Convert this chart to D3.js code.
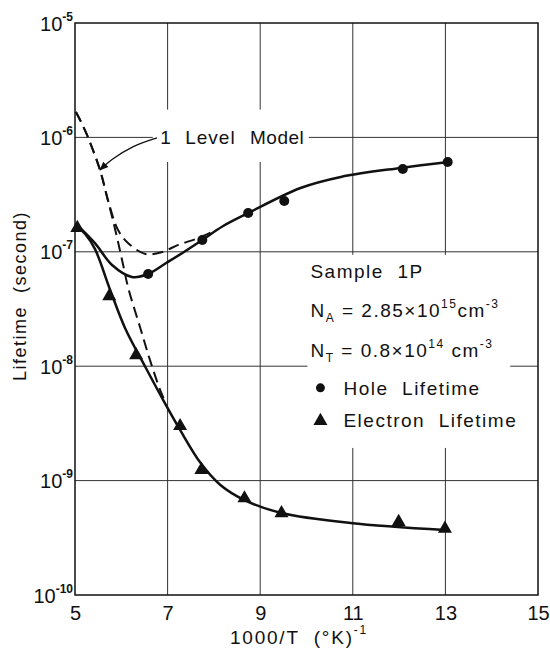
<!DOCTYPE html>
<html>
<head>
<meta charset="utf-8">
<script src="https://cdn.jsdelivr.net/npm/d3@7"></script>
<style>
  body { margin: 0; background: #fff; }
  svg { font-family: "Liberation Sans", Arial, sans-serif; }
  svg text { white-space: pre; }
</style>
</head>
<body>
<div id="chart"></div>
<script>
// axis ticks
const xTicks = [5, 7, 9, 11, 13, 15];
const yExponents = [-5, -6, -7, -8, -9, -10];

// measured lifetimes (seconds) vs 1000/T
const holeX = [6.58, 7.75, 8.74, 9.52, 12.08, 13.05];
const holeTau = [6.4e-8, 1.27e-7, 2.18e-7, 2.78e-7, 5.3e-7, 6.1e-7];
const electronX = [5.05, 5.74, 6.32, 7.27, 7.73, 8.66, 9.46, 11.99, 12.99];
const electronTau = [1.62e-7, 4.1e-8, 1.25e-8, 3.0e-9, 1.24e-9, 7.0e-10, 5.2e-10, 4.35e-10, 3.8e-10];

// solid fitted curves
const holeFitX = [5.02, 5.43, 5.80, 6.23, 6.58, 6.97, 7.32, 7.75, 8.20, 8.74, 9.87, 10.74, 12.03, 13.07];
const holeFitTau = [1.75e-7, 1.19e-7, 7.67e-8, 6.03e-8, 6.4e-8, 7.98e-8, 9.77e-8, 1.27e-7, 1.68e-7, 2.18e-7, 3.61e-7, 4.51e-7, 5.41e-7, 6.1e-7];
const electronFitX = [5.04, 5.22, 5.43, 5.76, 6.08, 6.52, 6.95, 7.27, 7.71, 8.14, 8.66, 9.46, 10.95, 12.99];
const electronFitTau = [1.68e-7, 1.43e-7, 1.06e-7, 4.63e-8, 2.16e-8, 9.84e-9, 4.68e-9, 2.77e-9, 1.43e-9, 9.16e-10, 6.76e-10, 5.21e-10, 4.26e-10, 3.7e-10];

// dashed "1 level model" curves
const modelHoleX = [5.02, 5.11, 5.26, 5.54, 5.71, 5.93, 6.15, 6.52, 6.88, 7.23, 7.60, 7.81, 8.05];
const modelHoleTau = [1.67e-6, 1.42e-6, 1.05e-6, 5.19e-7, 2.84e-7, 1.55e-7, 1.19e-7, 9.57e-8, 9.95e-8, 1.15e-7, 1.29e-7, 1.4e-7, 1.55e-7];
const modelElectronX = [5.02, 5.11, 5.26, 5.54, 5.71, 5.91, 6.04, 6.15, 6.41, 6.62, 6.84, 6.97];
const modelElectronTau = [1.67e-6, 1.42e-6, 1.05e-6, 5.19e-7, 2.84e-7, 1.32e-7, 7.67e-8, 4.83e-8, 2.16e-8, 1.13e-8, 6.19e-9, 4.68e-9];

// annotation arrow for the model label
const arrowX = [6.77, 6.26, 5.80, 5.54];
const arrowTau = [9.89e-7, 8.3e-7, 6.4e-7, 5.19e-7];

const margin = { left: 75, right: 12, top: 23, bottom: 61 };
const W = 550, H = 656;
const width = W - margin.left - margin.right;
const height = H - margin.top - margin.bottom;

const svg = d3.select("#chart").append("svg")
    .attr("width", W)
    .attr("height", H);

const g = svg.append("g")
    .attr("transform", `translate(${margin.left},${margin.top})`);

const x = d3.scaleLinear().domain([5, 15]).range([0, width]);
const y = d3.scaleLog().domain([1e-10, 1e-5]).range([height, 0]);

const ink = "#111";

// grid
g.selectAll(".vgrid")
  .data(xTicks.slice(1, -1))
  .enter().append("line")
    .attr("x1", d => x(d)).attr("x2", d => x(d))
    .attr("y1", 0).attr("y2", height)
    .attr("stroke", "#333").attr("stroke-width", 1);

g.selectAll(".hgrid")
  .data(yExponents.slice(1, -1))
  .enter().append("line")
    .attr("x1", 0).attr("x2", width)
    .attr("y1", d => y(10 ** d)).attr("y2", d => y(10 ** d))
    .attr("stroke", "#333").attr("stroke-width", 1);

// blank areas behind the lettering
g.append("rect")
    .attr("x", x(6.68)).attr("y", y(1.75e-6))
    .attr("width", x(10.05) - x(6.68)).attr("height", y(6.1e-7) - y(1.75e-6))
    .attr("fill", "#fff");

const legX = x(10.02), legY = y(9.4e-8);
g.append("rect")
    .attr("x", legX).attr("y", legY)
    .attr("width", x(14.4) - legX).attr("height", y(1.93e-9) - legY)
    .attr("fill", "#fff");

// frame
g.append("rect")
    .attr("width", width).attr("height", height)
    .attr("fill", "none").attr("stroke", ink).attr("stroke-width", 1.5);

// axes
const xAxis = g.append("g")
    .attr("transform", `translate(0,${height})`)
    .call(d3.axisBottom(x).tickValues(xTicks).tickSize(0).tickPadding(11).tickFormat(d3.format("d")));
xAxis.select(".domain").remove();
xAxis.selectAll("text")
    .attr("font-size", 20).attr("fill", ink)
    .attr("font-family", "Liberation Sans, Arial, sans-serif");

const yAxis = g.append("g")
    .call(d3.axisLeft(y).tickValues(yExponents.map(e => 10 ** e)).tickSize(0).tickFormat(""));
yAxis.select(".domain").remove();
yAxis.selectAll(".tick text").remove();
yAxis.selectAll(".tick").each(function (d) {
  const e = Math.round(Math.log10(d));
  const t = d3.select(this).append("text")
      .attr("x", -2).attr("y", 7)
      .attr("text-anchor", "end")
      .attr("fill", ink)
      .attr("font-family", "Liberation Sans, Arial, sans-serif");
  t.append("tspan").attr("font-size", 20).text("10");
  t.append("tspan").attr("font-size", 12).attr("font-weight", "bold").attr("dy", -10).text(e);
});

// axis titles
const xTitle = svg.append("text")
    .attr("x", 299).attr("y", 644)
    .attr("text-anchor", "middle")
    .attr("font-size", 19).attr("letter-spacing", 1.8).attr("fill", ink);
xTitle.append("tspan").text("1000/T  (°K)");
xTitle.append("tspan").attr("font-size", 12).attr("dy", -10).text("-1");

svg.append("text")
    .attr("transform", "translate(26,296) rotate(-90)")
    .attr("text-anchor", "middle")
    .attr("font-size", 18).attr("letter-spacing", 1.5).attr("fill", ink)
    .text("Lifetime  (second)");

// curves
const line = d3.line()
    .x(d => x(d[0]))
    .y(d => y(d[1]))
    .curve(d3.curveCatmullRom.alpha(0.5));

const zip = (a, b) => a.map((v, i) => [v, b[i]]);

g.append("path").datum(zip(holeFitX, holeFitTau))
    .attr("d", line).attr("fill", "none").attr("stroke", ink).attr("stroke-width", 2.5);
g.append("path").datum(zip(electronFitX, electronFitTau))
    .attr("d", line).attr("fill", "none").attr("stroke", ink).attr("stroke-width", 2.5);

[zip(modelHoleX, modelHoleTau), zip(modelElectronX, modelElectronTau)].forEach(pts => {
  g.append("path").datum(pts)
      .attr("d", line).attr("fill", "none").attr("stroke", ink)
      .attr("stroke-width", 2).attr("stroke-dasharray", "11,6");
});

// markers
g.selectAll(".hole")
  .data(zip(holeX, holeTau))
  .enter().append("circle")
    .attr("cx", d => x(d[0])).attr("cy", d => y(d[1]))
    .attr("r", 5).attr("fill", ink);

const tri = d3.symbol().type(d3.symbolTriangle).size(85);
g.selectAll(".electron")
  .data(zip(electronX, electronTau))
  .enter().append("path")
    .attr("d", tri)
    .attr("transform", d => `translate(${x(d[0])},${y(d[1])})`)
    .attr("fill", ink);

// model label + arrow
svg.append("defs").append("marker")
    .attr("id", "head")
    .attr("viewBox", "0 0 10 10")
    .attr("refX", 9).attr("refY", 5)
    .attr("markerWidth", 7).attr("markerHeight", 7)
    .attr("orient", "auto")
  .append("path")
    .attr("d", "M0,1 L10,5 L0,9 Z")
    .attr("fill", ink);

g.append("path").datum(zip(arrowX, arrowTau))
    .attr("d", line.curve(d3.curveNatural))
    .attr("fill", "none").attr("stroke", ink).attr("stroke-width", 1.3)
    .attr("marker-end", "url(#head)");

const label = g.append("text")
    .attr("y", y(1e-6) + 7)
    .attr("font-size", 19).attr("fill", ink);
label.append("tspan").attr("x", x(6.84)).text("1");
label.append("tspan").attr("x", x(7.38)).attr("letter-spacing", 1).text("Level");
label.append("tspan").attr("x", x(8.78)).attr("letter-spacing", 0.5).text("Model");

// legend box text
const leg = g.append("g")
    .attr("transform", `translate(${legX},${legY})`)
    .attr("fill", ink).attr("font-size", 19).attr("letter-spacing", 1.5);

leg.append("text").attr("x", 3).attr("y", 23).text("Sample  1P");

const na = leg.append("text").attr("x", 3).attr("y", 62);
na.append("tspan").text("N");
na.append("tspan").attr("font-size", 12).attr("dy", 5).text("A");
na.append("tspan").attr("dy", -5).text(" = 2.85×10");
na.append("tspan").attr("font-size", 12).attr("dy", -9).text("15");
na.append("tspan").attr("dy", 9).text("cm");
na.append("tspan").attr("font-size", 12).attr("dy", -9).text("-3");

const nt = leg.append("text").attr("x", 3).attr("y", 102);
nt.append("tspan").text("N");
nt.append("tspan").attr("font-size", 12).attr("dy", 5).text("T");
nt.append("tspan").attr("dy", -5).text(" = 0.8×10");
nt.append("tspan").attr("font-size", 12).attr("dy", -9).text("14");
nt.append("tspan").attr("dy", 9).text(" cm");
nt.append("tspan").attr("font-size", 12).attr("dy", -9).text("-3");

leg.append("circle").attr("cx", 13).attr("cy", 133).attr("r", 4.5);
leg.append("text").attr("x", 36).attr("y", 140).text("Hole  Lifetime");

leg.append("path").attr("d", tri).attr("transform", "translate(13,166)");
leg.append("text").attr("x", 36).attr("y", 172).text("Electron  Lifetime");
</script>
</body>
</html>
